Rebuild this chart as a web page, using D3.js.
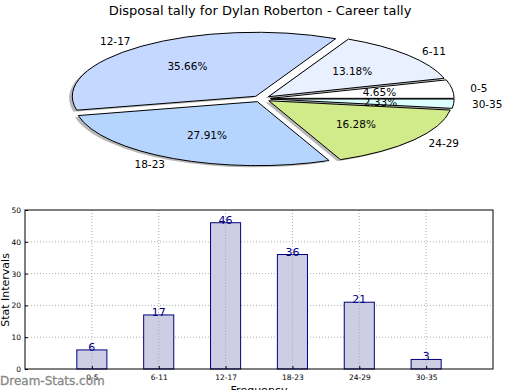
<!DOCTYPE html>
<html><head><meta charset="utf-8">
<script src="https://cdn.jsdelivr.net/npm/d3@7"></script>
<style>body{margin:0;background:#fff}svg{display:block;font-family:"DejaVu Sans",sans-serif}</style>
</head><body><svg id="c" width="520" height="390"></svg>
<script>
const categories = ["0-5","6-11","12-17","18-23","24-29","30-35"];
const values = [6,17,46,36,21,3];
const pieColors = ["#ffffff","#e9f0ff","#c5d8ff","#b5d5ff","#d1eb8b","#dcffff"];
const yTicks = [0,10,20,30,40,50];
const title = "Disposal tally for Dylan Roberton - Career tally";

(function(){
const svg = d3.select("#c");
svg.append("text").attr("x",260).attr("y",15).attr("text-anchor","middle")
  .attr("font-size",13).attr("fill","#000").text(title);

// ---- pie ----
const total = d3.sum(values);
const cx = 261.5, cy = 98.8, R = 183.5, RY = 64, k = RY/R, explode = 0.05;
const pie = d3.pie().sort(null).value(d=>d)
  .startAngle(Math.PI/2).endAngle(Math.PI/2 - 2*Math.PI);
const arcs = pie(values);
const arc = d3.arc().innerRadius(0).outerRadius(R);
const pg = svg.append("g");
function mid(a){ return (a.startAngle + a.endAngle)/2; }
function span(a){ return {startAngle:Math.min(a.startAngle,a.endAngle), endAngle:Math.max(a.startAngle,a.endAngle)}; }
arcs.forEach(a=>{
  const t = mid(a);
  a.ox = explode*R*Math.sin(t); a.oy = -explode*R*Math.cos(t)*k;
});
arcs.forEach(a=>{
  pg.append("path").attr("d", arc(span(a)))
    .attr("transform",`translate(${cx+a.ox-3.2},${cy+a.oy+1.6}) scale(1,${k})`)
    .attr("fill","#707070").attr("opacity",0.5);
});
arcs.forEach((a,i)=>{
  pg.append("path").attr("d", arc(span(a)))
    .attr("transform",`translate(${cx+a.ox},${cy+a.oy}) scale(1,${k})`)
    .attr("fill",pieColors[i]).attr("stroke","#000").attr("stroke-width",1)
    .attr("vector-effect","non-scaling-stroke");
});
arcs.forEach((a,i)=>{
  const t = mid(a), sx = Math.sin(t), sy = -Math.cos(t);
  const lx = cx + a.ox + 1.1*R*sx, ly = cy + a.oy + 1.1*RY*sy;
  pg.append("text").attr("x",lx).attr("y",ly).attr("dy","0.35em")
    .attr("text-anchor", sx < 0 ? "end" : "start").attr("font-size",10.5).text(categories[i]);
  const px = cx + a.ox + 0.6*R*sx, py = cy + a.oy + 0.6*RY*sy;
  pg.append("text").attr("x",px).attr("y",py).attr("dy","0.35em")
    .attr("text-anchor","middle").attr("font-size",10.5)
    .text((100*values[i]/total).toFixed(2)+"%");
});

// ---- bars ----
const L = 25, Rt = 493, T = 210, B = 369;
const x = d3.scaleLinear().domain([0,7]).range([L,Rt]);
const y = d3.scaleLinear().domain([0,50]).range([B,T]);
const bg = svg.append("g");
const pos = categories.map((c,i)=>i+1);
bg.selectAll(".gy").data(yTicks.slice(1,-1)).join("line")
  .attr("x1",L).attr("x2",Rt).attr("y1",d=>y(d)).attr("y2",d=>y(d))
  .attr("stroke","#b0b0b0").attr("stroke-dasharray","1,2");
bg.selectAll(".gx").data(pos).join("line")
  .attr("x1",d=>x(d)).attr("x2",d=>x(d)).attr("y1",T).attr("y2",B)
  .attr("stroke","#b0b0b0").attr("stroke-dasharray","1,2");
const bw = 0.45;
bg.selectAll(".bar").data(values).join("rect")
  .attr("x",(d,i)=>x(pos[i]-bw/2)).attr("width",x(bw)-x(0))
  .attr("y",d=>y(d)).attr("height",d=>B-y(d))
  .attr("fill","#cdcde3").attr("stroke","#000080").attr("stroke-width",1);
bg.selectAll(".gx2").data(pos).join("line")
  .attr("x1",d=>x(d)).attr("x2",d=>x(d)).attr("y1",(d,i)=>y(values[i])).attr("y2",B)
  .attr("stroke","#a8a8b8").attr("stroke-dasharray","1,2");
bg.selectAll(".vl").data(values).join("text")
  .attr("x",(d,i)=>x(pos[i])).attr("y",d=>y(d)+1).attr("text-anchor","middle")
  .attr("font-size",11).attr("fill","#000080").text(d=>d);
bg.append("rect").attr("x",L).attr("y",T).attr("width",Rt-L).attr("height",B-T)
  .attr("fill","none").attr("stroke","#000").attr("stroke-width",1);
const ya = d3.axisLeft(y).tickValues(yTicks).tickSize(-3).tickPadding(4);
const yg = bg.append("g").attr("transform",`translate(${L},0)`).call(ya);
yg.select(".domain").remove();
yg.selectAll("text").attr("font-size",7.5).attr("font-family","DejaVu Sans");
const xa = d3.axisBottom(x).tickValues(pos).tickFormat((d,i)=>categories[i]).tickSize(-3).tickPadding(6);
const xg = bg.append("g").attr("transform",`translate(0,${B})`).call(xa);
xg.select(".domain").remove();
xg.selectAll("text").attr("font-size",7.5).attr("font-family","DejaVu Sans");
svg.append("text").attr("transform","translate(9,290) rotate(-90)").attr("text-anchor","middle")
  .attr("font-size",11).text("Stat Intervals");
svg.append("text").attr("x",259).attr("y",394).attr("text-anchor","middle")
  .attr("font-size",11).text("Frequency");
svg.append("text").attr("x",0).attr("y",385).attr("font-size",12)
  .attr("fill","#888").attr("stroke","#888").attr("stroke-width",0.3).text("Dream-Stats.com");
})();
</script></body></html>
